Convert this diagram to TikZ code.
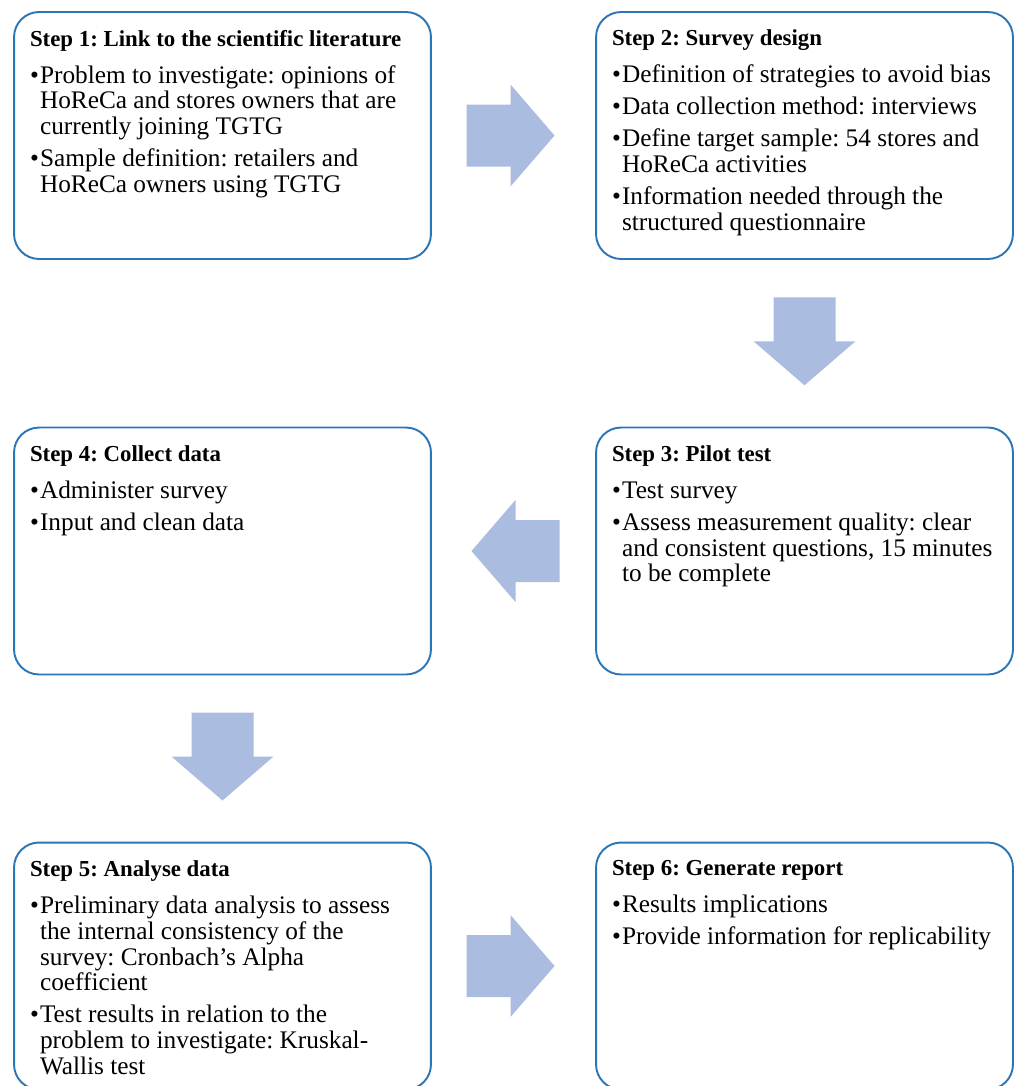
\documentclass[tikz,border=0pt]{standalone}
\usepackage{fontspec}
\setmainfont{Liberation Serif}
\usetikzlibrary{calc}

\definecolor{boxblue}{HTML}{2E75B6}
\definecolor{arrowblue}{HTML}{AABCE0}

\newcommand{\steptitle}[1]{\noindent{\fontsize{13}{15}\selectfont\bfseries #1\par}\vspace{0.1cm}}
\newcommand{\stepitem}[1]{\par\hangindent=0.2cm\hangafter=1\noindent\makebox[0.2cm][l]{\textbullet}#1}
\newcommand{\stepbody}[1]{\parbox[t][4.22cm][t]{7.7cm}{\frenchspacing\setlength{\parindent}{0pt}\fontsize{14.4}{14.74}\selectfont\raggedright\setlength{\parskip}{0.12cm}#1}}

\tikzset{
  stepbox/.style={draw=boxblue, line width=1.1pt, rounded corners=0.5cm,
    inner xsep=0.32cm, inner ysep=0.36cm, fill=white},
  blockarrow/.style={fill=arrowblue}
}

\begin{document}
\begin{tikzpicture}[x=0.02cm, y=-0.02cm]
\useasboundingbox (0,0) rectangle (1014,1086);

% the six steps
\node[stepbox] (s1) at (222.5,135.5) {\stepbody{%
  \steptitle{Step 1: Link to the scientific literature}
  \stepitem{Problem to investigate: opinions of\newline HoReCa and stores owners that are\newline currently joining TGTG}
  \stepitem{Sample definition: retailers and\newline HoReCa owners using TGTG}}};

\node[stepbox] (s2) at (804.5,135.5) {\stepbody{%
  \steptitle{Step 2: Survey design}
  \stepitem{Definition of strategies to avoid bias}
  \stepitem{Data collection method: interviews}
  \stepitem{Define target sample: 54 stores and\newline HoReCa activities}
  \stepitem{Information needed through the\newline structured questionnaire}}};

\node[stepbox] (s3) at (804.5,551) {\stepbody{%
  \steptitle{Step 3: Pilot test}
  \stepitem{Test survey}
  \stepitem{Assess measurement quality: clear\newline and consistent questions, 15 minutes\newline to be complete}}};

\node[stepbox] (s4) at (222.5,551) {\stepbody{%
  \steptitle{Step 4: Collect data}
  \stepitem{Administer survey}
  \stepitem{Input and clean data}}};

\node[stepbox] (s5) at (222.5,966) {\stepbody{%
  \steptitle{Step 5: Analyse data}
  \stepitem{Preliminary data analysis to assess\newline the internal consistency of the\newline survey: Cronbach’s Alpha\newline coefficient}
  \stepitem{Test results in relation to the\newline problem to investigate: Kruskal-\newline Wallis test}}};

\node[stepbox] (s6) at (804.5,966) {\stepbody{%
  \steptitle{Step 6: Generate report}
  \stepitem{Results implications}
  \stepitem{Provide information for replicability}}};

% block arrows between the steps
\fill[blockarrow, shift={($(s1.east)!0.5!(s2.west)$)}]
  (-47,-31) -- (-3,-31) -- (-3,-51) -- (41,0) -- (-3,51) -- (-3,31) -- (-47,31) -- cycle;
\fill[blockarrow, shift={($(s2.south)!0.5!(s3.north)$)}]
  (-31,-46) -- (-31,-2) -- (-51,-2) -- (0,42) -- (51,-2) -- (31,-2) -- (31,-46) -- cycle;
\fill[blockarrow, shift={($(s3.west)!0.5!(s4.east)$)}]
  (46,-31) -- (2,-31) -- (2,-51) -- (-42,0) -- (2,51) -- (2,31) -- (46,31) -- cycle;
\fill[blockarrow, shift={($(s4.south)!0.5!(s5.north)$)}]
  (-31,-46) -- (-31,-2) -- (-51,-2) -- (0,42) -- (51,-2) -- (31,-2) -- (31,-46) -- cycle;
\fill[blockarrow, shift={($(s5.east)!0.5!(s6.west)$)}]
  (-47,-31) -- (-3,-31) -- (-3,-51) -- (41,0) -- (-3,51) -- (-3,31) -- (-47,31) -- cycle;
\end{tikzpicture}
\end{document}
